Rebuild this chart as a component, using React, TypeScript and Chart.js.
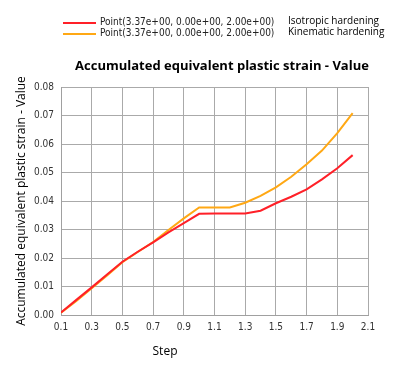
import React, { useEffect, useRef } from "react";
import { Chart, registerables } from "chart.js";

Chart.register(...registerables);

const steps = [0.1, 0.2, 0.3, 0.4, 0.5, 0.6, 0.7, 0.8, 0.9, 1.0, 1.1, 1.2, 1.3, 1.4, 1.5, 1.6, 1.7, 1.8, 1.9, 2.0];
const isotropic = [0.0009, 0.0053, 0.0097, 0.0142, 0.0187, 0.0222, 0.0255, 0.029, 0.0322, 0.0355, 0.0356, 0.0356, 0.0356, 0.0366, 0.0392, 0.0415, 0.0441, 0.0476, 0.0515, 0.0561];
const kinematic = [0.0008, 0.0049, 0.0094, 0.0139, 0.0185, 0.0221, 0.0256, 0.0298, 0.0339, 0.0377, 0.0377, 0.0377, 0.0394, 0.0418, 0.0448, 0.0485, 0.0529, 0.0577, 0.0638, 0.0708];
const xTicks = [0.1, 0.3, 0.5, 0.7, 0.9, 1.1, 1.3, 1.5, 1.7, 1.9, 2.1];
const seriesLabels = ["Point(3.37e+00, 0.00e+00, 2.00e+00)", "Point(3.37e+00, 0.00e+00, 2.00e+00)"];
const seriesNotes = ["Isotropic hardening", "Kinematic hardening"];
const chartTitle = "Accumulated equivalent plastic strain - Value";
const xTitle = "Step";
const yTitle = "Accumulated equivalent plastic strain - Value";

const RED = "rgb(255,32,40)";
const ORANGE = "rgb(255,168,20)";
const NARROW = "'DejaVu Sans Condensed', 'DejaVu Sans', sans-serif";

const textPlugin = {
  id: "texts",
  afterDraw(chart: any) {
    const ctx = chart.ctx;
    ctx.save();
    const rows = [23, 34];
    chart.data.datasets.forEach((ds: any, i: number) => {
      const y = rows[i];
      ctx.strokeStyle = ds.borderColor;
      ctx.lineWidth = 2;
      ctx.beginPath();
      ctx.moveTo(63, y);
      ctx.lineTo(96, y);
      ctx.stroke();
      ctx.fillStyle = "#222";
      ctx.font = "10px " + NARROW;
      ctx.textBaseline = "middle";
      ctx.textAlign = "left";
      ctx.fillText(seriesLabels[i], 100, y - 1);
      ctx.font = "10px 'Open Sans', sans-serif";
      ctx.fillStyle = "#000";
      ctx.fillText(seriesNotes[i], 288, y - 2);
    });
    ctx.font = "bold 13px 'Open Sans', sans-serif";
    ctx.fillStyle = "#000";
    ctx.textAlign = "center";
    ctx.textBaseline = "middle";
    ctx.fillText(chartTitle, 222, 66);
    ctx.font = "12px 'Open Sans', sans-serif";
    ctx.fillText(xTitle, 165, 352);
    ctx.translate(22, 201);
    ctx.rotate(-Math.PI / 2);
    ctx.fillText(yTitle, 0, 0);
    ctx.restore();
  },
};

export default function App() {
  const ref = useRef<HTMLCanvasElement>(null);
  useEffect(() => {
    const chart = new Chart(ref.current!, {
      type: "line",
      data: {
        datasets: [
          {
            label: seriesLabels[0],
            data: steps.map((s, i) => ({ x: s, y: isotropic[i] })),
            borderColor: RED,
            borderWidth: 2,
            pointRadius: 0,
            tension: 0,
          },
          {
            label: seriesLabels[1],
            data: steps.map((s, i) => ({ x: s, y: kinematic[i] })),
            borderColor: ORANGE,
            borderWidth: 2,
            pointRadius: 0,
            tension: 0,
          },
        ],
      },
      options: {
        responsive: false,
        animation: false,
        layout: { padding: { left: 0, top: 87, right: 28, bottom: 0 } },
        plugins: { legend: { display: false }, tooltip: { enabled: false }, title: { display: false } },
        scales: {
          x: {
            type: "linear",
            min: 0.1,
            max: 2.1,
            afterBuildTicks: (scale: any) => {
              scale.ticks = xTicks.map((v) => ({ value: v }));
            },
            afterFit: (scale: any) => {
              scale.height = 60;
            },
            grid: { color: "rgb(170,170,170)", drawTicks: false, lineWidth: 1 },
            border: { color: "rgb(160,160,160)", width: 1 },
            ticks: {
              padding: 6,
              color: "#333",
              font: { family: NARROW, size: 10 },
              callback: (v: any) => Number(v).toFixed(1),
              maxRotation: 0,
              autoSkip: false,
            },
          },
          y: {
            min: 0,
            max: 0.08,
            afterFit: (scale: any) => {
              scale.width = 61;
            },
            grid: { color: "rgb(170,170,170)", drawTicks: false, lineWidth: 1 },
            border: { color: "rgb(160,160,160)", width: 1 },
            ticks: {
              stepSize: 0.01,
              padding: 7,
              color: "#333",
              font: { family: NARROW, size: 10 },
              callback: (v: any) => Number(v).toFixed(2),
            },
          },
        },
      },
      plugins: [textPlugin],
    } as any);
    return () => chart.destroy();
  }, []);
  return (
    <div style={{ position: "absolute", left: 0, top: 0, width: 396, height: 375, background: "#fff" }}>
      <canvas ref={ref} width={396} height={375} />
    </div>
  );
}
